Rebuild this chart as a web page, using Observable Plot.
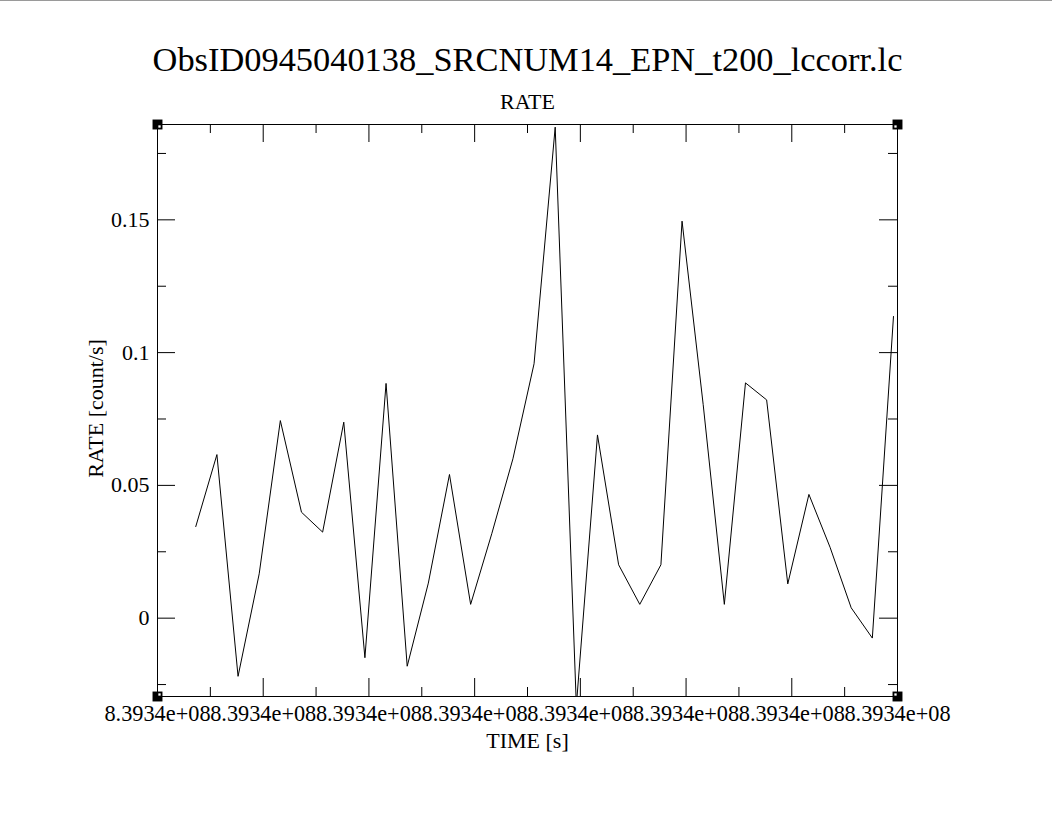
<!DOCTYPE html>
<html>
<head>
<meta charset="utf-8">
<script src="https://cdn.jsdelivr.net/npm/d3@7"></script>
<script src="https://cdn.jsdelivr.net/npm/@observablehq/plot@0.6"></script>
<style>
  html, body { margin: 0; padding: 0; background: white; }
  #topline { position: absolute; left: 0; top: 0; width: 1052px; height: 1px; background: #9a9a9a; }
</style>
</head>
<body>
<div id="topline"></div>
<div id="chart"></div>
<script>
const title = "ObsID0945040138_SRCNUM14_EPN_t200_lccorr.lc";
const subtitle = "RATE";
const xLabel = "TIME [s]";
const yLabel = "RATE [count/s]";

const times = [
  839337362, 839337562, 839337762, 839337962, 839338162, 839338362, 839338562,
  839338762, 839338962, 839339162, 839339362, 839339562, 839339762, 839339962,
  839340162, 839340362, 839340562, 839340762, 839340962, 839341162, 839341362,
  839341562, 839341762, 839341962, 839342162, 839342362, 839342562, 839342762,
  839342962, 839343162, 839343362, 839343562, 839343762, 839343962
];
const rates = [
  0.0345, 0.0616, -0.0219, 0.0167, 0.0744, 0.0399, 0.0324,
  0.0738, -0.0149, 0.0884, -0.0181, 0.0132, 0.0541, 0.0052,
  0.0318, 0.0600, 0.0958, 0.1849, -0.0330, 0.0690, 0.0201,
  0.0052, 0.0201, 0.1495, 0.0804, 0.0052, 0.0886, 0.0822,
  0.0129, 0.0466, 0.0267, 0.0039, -0.0075, 0.1136
];

const xDomain = [839337000, 839344000];
const yDomain = [-0.0295, 0.1859];

const xMajorTicks = [839337000, 839338000, 839339000, 839340000, 839341000, 839342000, 839343000, 839344000];
const xMinorTicks = [839337500, 839338500, 839339500, 839340500, 839341500, 839342500, 839343500];
const xTickLabels = ["8.3934e+08", "8.3934e+08", "8.3934e+08", "8.3934e+08", "8.3934e+08", "8.3934e+08", "8.3934e+08", "8.3934e+08"];

const yMajorTicks = [0, 0.05, 0.1, 0.15];
const yMinorTicks = [-0.025, 0.025, 0.075, 0.125, 0.175];
const yTickLabels = ["0", "0.05", "0.1", "0.15"];

const data = times.map((t, i) => ({time: t, rate: rates[i]}));

const W = 1052, H = 816;
const mL = 157, mR = 155, mT = 124, mB = 120;
const frameW = W - mL - mR, frameH = H - mT - mB;
const major = 18, minor = 9;

const corners = [
  {x: xDomain[0], y: yDomain[1], sx: 1, sy: 1},
  {x: xDomain[1], y: yDomain[1], sx: -1, sy: 1},
  {x: xDomain[0], y: yDomain[0], sx: 1, sy: -1},
  {x: xDomain[1], y: yDomain[0], sx: -1, sy: -1}
];

const font = "Liberation Serif, Times New Roman, serif";

const chart = Plot.plot({
  width: W, height: H,
  marginLeft: mL, marginRight: mR, marginTop: mT, marginBottom: mB,
  x: {domain: xDomain, axis: null},
  y: {domain: yDomain, axis: null},
  style: {fontFamily: font, background: "white", color: "black"},
  marks: [
    Plot.line(data, {x: "time", y: "rate", stroke: "black", strokeWidth: 1, clip: true}),
    Plot.frame({stroke: "black", strokeWidth: 1}),
    // bottom ticks
    Plot.ruleX(xMajorTicks, {insetTop: frameH - major, stroke: "black"}),
    Plot.ruleX(xMinorTicks, {insetTop: frameH - minor, stroke: "black"}),
    // top ticks
    Plot.ruleX(xMajorTicks, {insetBottom: frameH - major, stroke: "black"}),
    Plot.ruleX(xMinorTicks, {insetBottom: frameH - minor, stroke: "black"}),
    // left ticks
    Plot.ruleY(yMajorTicks, {insetRight: frameW - major, stroke: "black"}),
    Plot.ruleY(yMinorTicks, {insetRight: frameW - minor, stroke: "black"}),
    // right ticks
    Plot.ruleY(yMajorTicks, {insetLeft: frameW - major, stroke: "black"}),
    Plot.ruleY(yMinorTicks, {insetLeft: frameW - minor, stroke: "black"}),
    // corner markers
    Plot.dot(corners, {x: "x", y: "y", symbol: "square", r: 5.6, fill: "black", stroke: null}),
    ...corners.map(c => Plot.dot([c], {x: "x", y: "y", symbol: "square", r: 1.3, fill: "white", stroke: null, dx: c.sx * 2, dy: c.sy * 2})),
    // tick labels
    Plot.text(xMajorTicks, {x: d => d, text: (d, i) => xTickLabels[i], frameAnchor: "bottom", dy: 24, lineAnchor: "bottom", fontSize: 22.3, fill: "black"}),
    Plot.text(yMajorTicks, {y: d => d, text: (d, i) => yTickLabels[i], frameAnchor: "left", dx: -8, textAnchor: "end", fontSize: 22, fill: "black"}),
    // titles and axis labels
    Plot.text([title], {text: d => d, frameAnchor: "top", dy: -54, lineAnchor: "bottom", fontSize: 34.4, fill: "black"}),
    Plot.text([subtitle], {text: d => d, frameAnchor: "top", dy: -16, lineAnchor: "bottom", fontSize: 22, fill: "black"}),
    Plot.text([xLabel], {text: d => d, frameAnchor: "bottom", dy: 51, lineAnchor: "bottom", fontSize: 22, fill: "black"}),
    Plot.text([yLabel], {text: d => d, frameAnchor: "left", dx: -55, dy: -2, rotate: -90, textAnchor: "middle", lineAnchor: "bottom", fontSize: 22, fill: "black"})
  ]
});
document.getElementById("chart").appendChild(chart);
</script>
</body>
</html>
